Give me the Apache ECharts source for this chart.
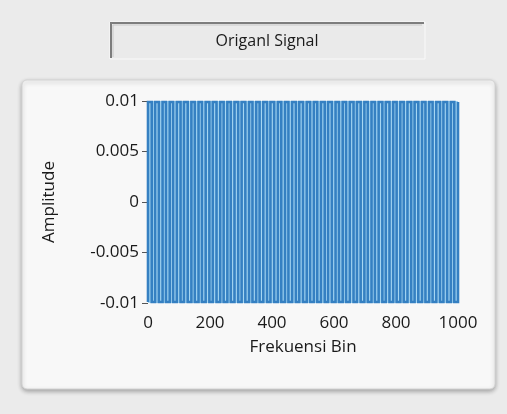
<!DOCTYPE html>
<html>
<head>
<meta charset="utf-8">
<script src="https://cdn.jsdelivr.net/npm/echarts@6/dist/echarts.min.js"></script>
<style>
  html, body { margin: 0; padding: 0; background: #ebebeb; }
  #chart { width: 507px; height: 414px; }
</style>
</head>
<body>
<div id="chart"></div>
<script>
// Transition bins of the signal; it swings between its two peaks at each one
const bins = [0, 12, 23, 35, 47, 58, 70, 81, 93, 105, 116, 128, 140, 151, 163, 174,
  186, 198, 209, 221, 233, 244, 256, 267, 279, 291, 302, 314, 326, 337, 349, 360,
  372, 384, 395, 407, 419, 430, 442, 453, 465, 477, 488, 500, 512, 523, 535, 546,
  558, 570, 581, 593, 605, 616, 628, 639, 651, 663, 674, 686, 698, 709, 721, 732,
  744, 756, 767, 779, 791, 802, 814, 825, 837, 849, 860, 872, 884, 895, 907, 918,
  930, 942, 953, 965, 977, 988, 1000];
const peakLow = -0.0099;
const peakHigh = 0.0099;
const xTicks = [0, 200, 400, 600, 800, 1000];
const yTicks = [-0.01, -0.005, 0, 0.005, 0.01];

const title = 'Origanl Signal';
const xName = 'Frekuensi Bin';
const yName = 'Amplitude';

const FONT = '"Open Sans", "Noto Sans", sans-serif';

// each transition is a full swing from one peak to the other at the same bin
const signal = [];
bins.forEach((b, i) => {
  const from = i % 2 === 0 ? peakLow : peakHigh;
  const to = i % 2 === 0 ? peakHigh : peakLow;
  signal.push([b, from], [b, to]);
});

const chart = echarts.init(document.getElementById('chart'), null, { renderer: 'canvas' });
chart.setOption({
  backgroundColor: '#ebebeb',
  animation: false,
  graphic: [
    // graph panel
    { type: 'rect', z: -10, shape: { x: 22, y: 80, width: 473, height: 309, r: 5 },
      style: { fill: '#f8f8f8', stroke: '#d4d4d4', lineWidth: 1,
        shadowBlur: 4, shadowOffsetY: 2, shadowColor: 'rgba(0,0,0,0.3)' } },
    // recessed title box
    { type: 'rect', z: -10, shape: { x: 110, y: 22, width: 315, height: 37 },
      style: { fill: '#eaeaea', stroke: '#fafafa', lineWidth: 1 } },
    { type: 'polyline', z: -9, shape: { points: [[111, 58], [111, 23], [424, 23]] },
      style: { stroke: '#7d7d7d', lineWidth: 2, fill: null } },
    { type: 'polyline', z: -9, shape: { points: [[113, 57], [113, 25], [422, 25]] },
      style: { stroke: '#c8c8c8', lineWidth: 1, fill: null } },
    { type: 'text', z: 5, style: { x: 267, y: 41, text: title, align: 'center',
      verticalAlign: 'middle', font: '500 16px ' + FONT, fill: '#1a1a1a' } }
  ],
  grid: { left: 148, right: 49, top: 101, bottom: 111 },
  xAxis: {
    type: 'value', min: xTicks[0], max: xTicks[xTicks.length - 1], interval: 200,
    name: xName, nameLocation: 'middle', nameGap: 36,
    nameTextStyle: { fontFamily: FONT, fontSize: 17, color: '#1a1a1a' },
    axisLine: { show: false },
    axisTick: { show: true, length: 6, lineStyle: { color: '#555' } },
    axisLabel: { fontFamily: FONT, fontSize: 17, color: '#1a1a1a', margin: 12,
      formatter: v => String(v) },
    splitLine: { show: false }
  },
  yAxis: {
    type: 'value', min: yTicks[0], max: yTicks[yTicks.length - 1], interval: 0.005,
    name: yName, nameLocation: 'middle', nameGap: 90,
    nameTextStyle: { fontFamily: FONT, fontSize: 17, color: '#1a1a1a' },
    axisLine: { show: false },
    axisTick: { show: true, length: 6, lineStyle: { color: '#555' } },
    axisLabel: { fontFamily: FONT, fontSize: 17, color: '#1a1a1a', margin: 9 },
    splitLine: { show: false }
  },
  series: [{
    type: 'line', data: signal, showSymbol: false, clip: true,
    lineStyle: { color: '#3580c2', width: 2.6, join: 'miter', cap: 'butt' },
    markArea: {
      silent: true,
      itemStyle: { color: '#a6d6f2', opacity: 1 },
      data: [[{ coord: [xTicks[0], yTicks[0]] }, { coord: [xTicks[xTicks.length - 1], yTicks[yTicks.length - 1]] }]]
    }
  }]
});
</script>
</body>
</html>
